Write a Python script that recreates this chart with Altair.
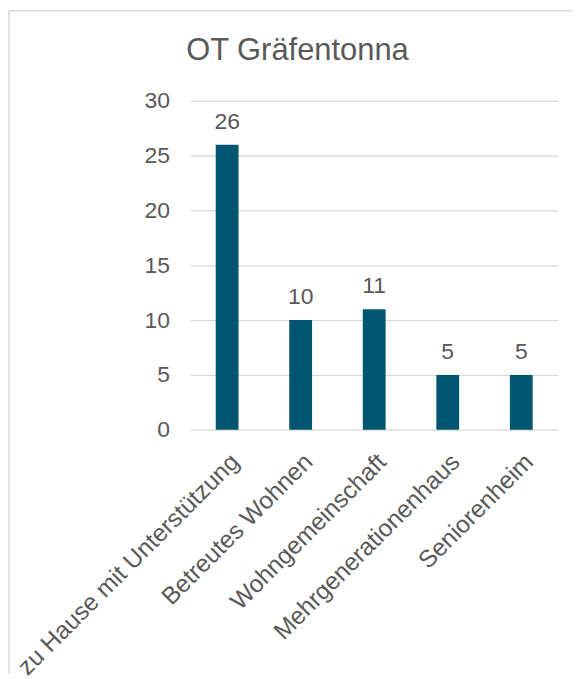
import altair as alt
import pandas as pd

categories = ["zu Hause mit Unterstützung", "Betreutes Wohnen", "Wohngemeinschaft",
              "Mehrgenerationenhaus", "Seniorenheim"]
values = [26, 10, 11, 5, 5]
y_ticks = [0, 5, 10, 15, 20, 25, 30]
title_text = "OT Gräfentonna"

df = pd.DataFrame({"Kategorie": categories, "Anzahl": values})

FONT = "Liberation Sans"
TXT = "#595959"
BAR = "#005670"
W, H = 369, 330

x_enc = alt.X("Kategorie:N", sort=categories, title=None,
              scale=alt.Scale(paddingInner=0.69, paddingOuter=0.345),
              axis=alt.Axis(labelAngle=-45, labelFontSize=24.5, labelColor=TXT, labelFont=FONT,
                            ticks=False, domain=False, labelPadding=20, labelLimit=400,
                            grid=False))
y_enc = alt.Y("Anzahl:Q", title=None,
              scale=alt.Scale(domain=[0, 30], nice=False),
              axis=alt.Axis(values=y_ticks, labelFontSize=23, labelColor=TXT, labelFont=FONT,
                            ticks=False, domain=False, labelPadding=21,
                            gridColor="#D9D9D9", gridWidth=1.2))

base = alt.Chart(df)
bars = base.mark_bar(color=BAR).encode(x=x_enc, y=y_enc)
labels = base.mark_text(font=FONT, fontSize=23, color=TXT, dy=-16, baseline="alphabetic").encode(
    x=alt.X("Kategorie:N", sort=categories),
    y=alt.Y("Anzahl:Q"),
    text=alt.Text("Anzahl:Q"),
)

border_top = alt.Chart(pd.DataFrame({"a": [0]})).mark_rule(color="#D9D9D9", strokeWidth=1.5).encode(
    x=alt.value(-182), x2=alt.value(383), y=alt.value(-90.5))
border_left = alt.Chart(pd.DataFrame({"a": [0]})).mark_rule(color="#D9D9D9", strokeWidth=1.5).encode(
    x=alt.value(-182), y=alt.value(-90.5), y2=alt.value(575))

chart = alt.layer(border_top, border_left, bars, labels).properties(
    width=W, height=H,
    padding=0,
    title=alt.TitleParams(title_text, fontSize=31, font=FONT, color=TXT, fontWeight="normal",
                          anchor="middle", dx=-77, offset=-57),
).configure_view(stroke=None)

chart.save("out.html", embed_options={"renderer": "svg", "actions": False})
